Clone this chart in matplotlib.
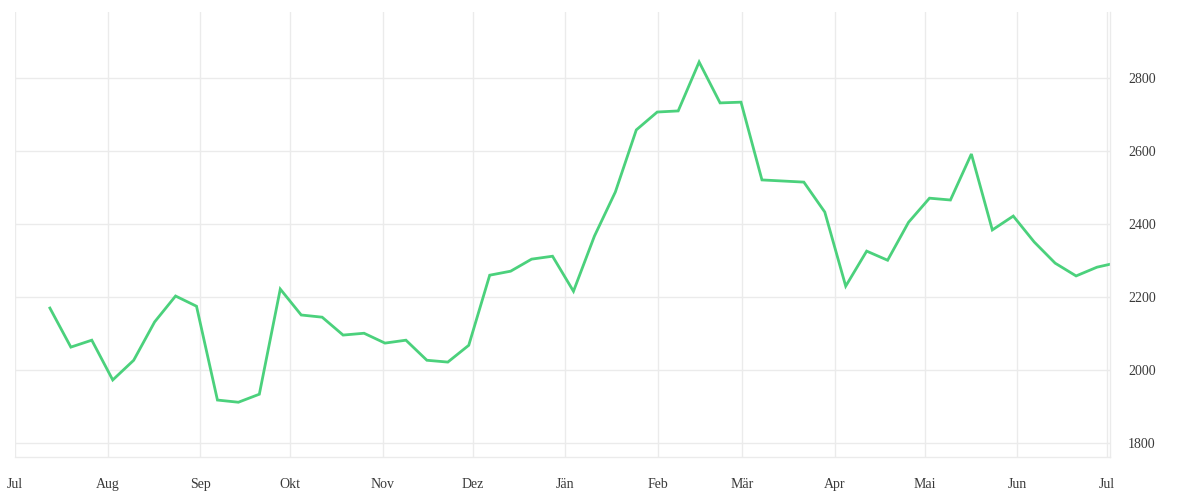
import pandas as pd
import matplotlib
matplotlib.use("Agg")
import matplotlib.pyplot as plt

# datos (semanal, ultimo punto 2 jul)
fechas = list(pd.date_range("2024-07-12 16:00", periods=51, freq="7D")) + [pd.Timestamp("2025-07-02")]
valores = [2170, 2063, 2082, 1973, 2027, 2132, 2203, 2175, 1918, 1912,
           1934, 2222, 2151, 2145, 2096, 2101, 2074, 2082, 2027, 2022,
           2068, 2260, 2271, 2304, 2312, 2216, 2367, 2488, 2658, 2707,
           2710, 2844, 2732, 2734, 2521, 2518, 2515, 2433, 2230, 2326,
           2301, 2405, 2471, 2466, 2592, 2384, 2422, 2351, 2293, 2258,
           2282, 2290]

meses = pd.date_range("2024-07-01", "2025-07-01", freq="MS")
etiquetas_meses = ["Jul", "Aug", "Sep", "Okt", "Nov", "Dez", "Jän",
                   "Feb", "Mär", "Apr", "Mai", "Jun", "Jul"]
ticks_y = [1800, 2000, 2200, 2400, 2600, 2800]

plt.rcParams['font.family'] = ['Liberation Serif', 'DejaVu Serif']

fig = plt.figure(figsize=(12, 5), dpi=100)
ax = fig.add_axes([0.0125, 0.086, 0.9125, 0.89])

ax.plot(fechas, valores, color='#4bd17c', linewidth=2.0, solid_joinstyle='miter')

ax.set_xlim(pd.Timestamp("2024-07-01"), pd.Timestamp("2025-07-02"))
ax.set_ylim(1762, 2981)

ax.set_xticks(meses)
ax.set_xticklabels(etiquetas_meses)
ax.set_yticks(ticks_y)
ax.yaxis.tick_right()

ax.grid(True, color='#ebebeb', linewidth=1)
ax.set_axisbelow(True)
ax.tick_params(axis='both', length=0, labelsize=10, colors='#3a3a3a')
ax.tick_params(axis='x', pad=15)
ax.tick_params(axis='y', pad=13)

for lado in ['top', 'left']:
    ax.spines[lado].set_visible(False)
for lado in ['bottom', 'right']:
    ax.spines[lado].set_color('#ebebeb')
    ax.spines[lado].set_linewidth(1)

fig.savefig("out.png", dpi=100)
